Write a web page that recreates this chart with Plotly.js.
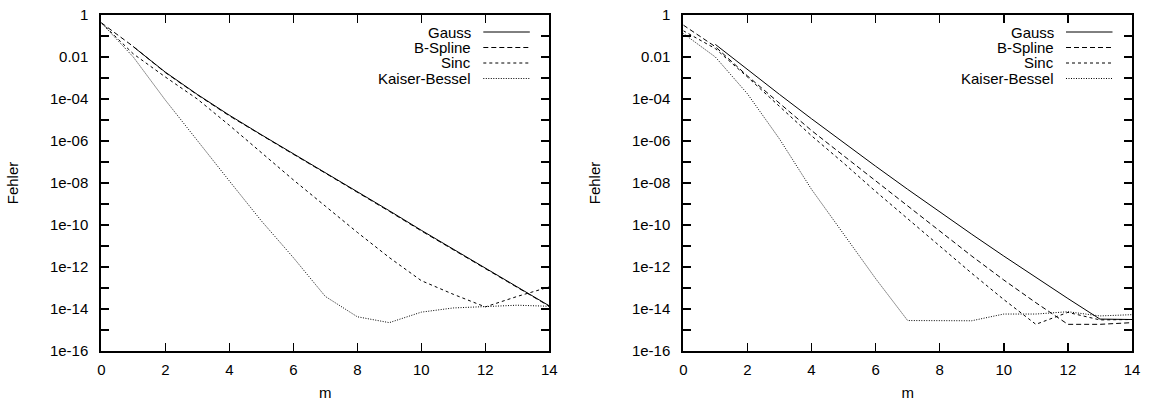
<!DOCTYPE html>
<html>
<head>
<meta charset="utf-8">
<script src="https://cdn.plot.ly/plotly-3.0.1.min.js"></script>
<style>html,body{margin:0;padding:0;background:#fff;}#chart{width:1150px;height:401px;}</style>
</head>
<body>
<div id="chart"></div>
<script>
// m values
const mAll = [0, 1, 2, 3, 4, 5, 6, 7, 8, 9, 10, 11, 12, 13, 14];
const mFrom1 = [1, 2, 3, 4, 5, 6, 7, 8, 9, 10, 11, 12, 13, 14];

// Left panel: log10(Fehler)
const gaussLeftLog = [-1.51, -2.72, -3.78, -4.77, -5.70, -6.60, -7.50, -8.40, -9.32, -10.25, -11.15, -12.08, -12.97, -13.85];
const bsplineLeftLog = [-0.37, -1.50, -2.74, -3.80, -4.80, -5.73, -6.63, -7.53, -8.43, -9.35, -10.28, -11.18, -12.10, -12.98, -13.87];
const sincLeftLog = [-0.37, -1.85, -2.95, -4.00, -5.25, -6.55, -7.85, -9.10, -10.35, -11.55, -12.65, -13.30, -13.90, -13.40, -12.95];
const kaiserLeftLog = [-0.37, -2.00, -4.05, -6.00, -7.90, -9.80, -11.55, -13.40, -14.37, -14.65, -14.15, -13.95, -13.87, -13.82, -13.87];

// Right panel: log10(Fehler)
const gaussRightLog = [-1.40, -2.60, -3.78, -4.94, -6.08, -7.20, -8.30, -9.38, -10.44, -11.48, -12.50, -13.50, -14.48, -14.50];
const bsplineRightLog = [-0.48, -1.51, -2.90, -4.20, -5.50, -6.70, -7.90, -9.10, -10.30, -11.48, -12.62, -13.70, -14.73, -14.73, -14.65];
const sincRightLog = [-0.75, -1.60, -2.95, -4.35, -5.75, -7.05, -8.40, -9.70, -11.00, -12.30, -13.55, -14.73, -14.16, -14.52, -14.50];
const kaiserRightLog = [-0.88, -2.00, -3.75, -5.90, -8.30, -10.45, -12.55, -14.55, -14.56, -14.56, -14.24, -14.24, -14.13, -14.33, -14.27];

// Axis ticks
const xTicks = [0, 2, 4, 6, 8, 10, 12, 14];
const yDecades = [0, -1, -2, -3, -4, -5, -6, -7, -8, -9, -10, -11, -12, -13, -14, -15, -16];
const yTickLabels = ['1', '', '0.01', '', '1e-04', '', '1e-06', '', '1e-08', '', '1e-10', '', '1e-12', '', '1e-14', '', '1e-16'];

const seriesNames = ['Gauss', 'B-Spline', 'Sinc', 'Kaiser-Bessel'];
const seriesDash = ['solid', '5px,3px', '3px,3px', '1px,1.5px'];

const toVal = arr => arr.map(v => Math.pow(10, v));
const FONT = 'Liberation Sans, Arial, Helvetica, sans-serif';

const panels = [
  {xa: 'x', ya: 'y', data: [[mFrom1, gaussLeftLog], [mAll, bsplineLeftLog], [mAll, sincLeftLog], [mAll, kaiserLeftLog]]},
  {xa: 'x2', ya: 'y2', data: [[mFrom1, gaussRightLog], [mAll, bsplineRightLog], [mAll, sincRightLog], [mAll, kaiserRightLog]]}
];

const traces = [];
panels.forEach(p => {
  p.data.forEach((d, i) => {
    traces.push({
      x: d[0], y: toVal(d[1]), xaxis: p.xa, yaxis: p.ya,
      type: 'scatter', mode: 'lines', name: seriesNames[i], showlegend: false,
      line: {color: '#000', width: 1, dash: seriesDash[i]},
      hoverinfo: 'skip'
    });
  });
});

const W = 1150;
const domL = [101.3 / W, 549.3 / W];
const domR = [683.3 / W, 1132 / W];

function xAxis(dom, anchor) {
  return {
    domain: dom, anchor: anchor, range: [0, 14], tickvals: xTicks, ticktext: xTicks.map(String),
    ticks: 'inside', ticklen: 8, tickwidth: 1.5, tickcolor: '#000',
    showline: true, linewidth: 2, linecolor: '#000', mirror: 'ticks',
    showgrid: false, zeroline: false,
    tickfont: {family: FONT, size: 15, color: '#000'},
    ticklabelstandoff: 4,
    title: {text: 'm', font: {family: FONT, size: 15, color: '#000'}, standoff: 12}
  };
}
function yAxis(dom, anchor) {
  return {
    domain: [0, 1], anchor: anchor, type: 'log', range: [-16, 0],
    tickvals: yDecades.map(e => Math.pow(10, e)), ticktext: yTickLabels,
    ticks: 'inside', ticklen: 8, tickwidth: 1.5, tickcolor: '#000',
    showline: true, linewidth: 2, linecolor: '#000', mirror: 'ticks',
    showgrid: false, zeroline: false,
    tickfont: {family: FONT, size: 15, color: '#000'},
    ticklabelstandoff: 8,
    title: {text: 'Fehler', font: {family: FONT, size: 15, color: '#000'}, standoff: 28}
  };
}

// Legend drawn gnuplot-style: right-aligned text, sample line on the right
const legendRowsPx = [32, 47.5, 63, 78.5];
const H = 401, T = 15, B = 50;
const ph = H - T - B;
const annotations = [];
const shapes = [];
[domL, domR].forEach(dom => {
  const rightPx = dom[1] * W;
  seriesNames.forEach((name, i) => {
    const yp = 1 - (legendRowsPx[i] - T) / ph;
    annotations.push({
      xref: 'paper', yref: 'paper', x: (rightPx - 76.5) / W, y: yp,
      xanchor: 'right', yanchor: 'middle', text: name, showarrow: false,
      font: {family: FONT, size: 15, color: '#000'}
    });
    shapes.push({
      type: 'line', xref: 'paper', yref: 'paper',
      x0: (rightPx - 66) / W, x1: (rightPx - 19.5) / W, y0: yp, y1: yp,
      line: {color: '#000', width: 1, dash: seriesDash[i]}
    });
  });
});

const layout = {
  width: 1150, height: 401,
  margin: {l: 0, r: 0, t: T, b: B},
  paper_bgcolor: '#fff', plot_bgcolor: '#fff',
  showlegend: false,
  font: {family: FONT, size: 15, color: '#000'},
  xaxis: xAxis(domL, 'y'), yaxis: yAxis(domL, 'x'),
  xaxis2: xAxis(domR, 'y2'), yaxis2: yAxis(domR, 'x2'),
  annotations: annotations, shapes: shapes
};

Plotly.newPlot('chart', traces, layout, {staticPlot: true, displayModeBar: false});
</script>
</body>
</html>
